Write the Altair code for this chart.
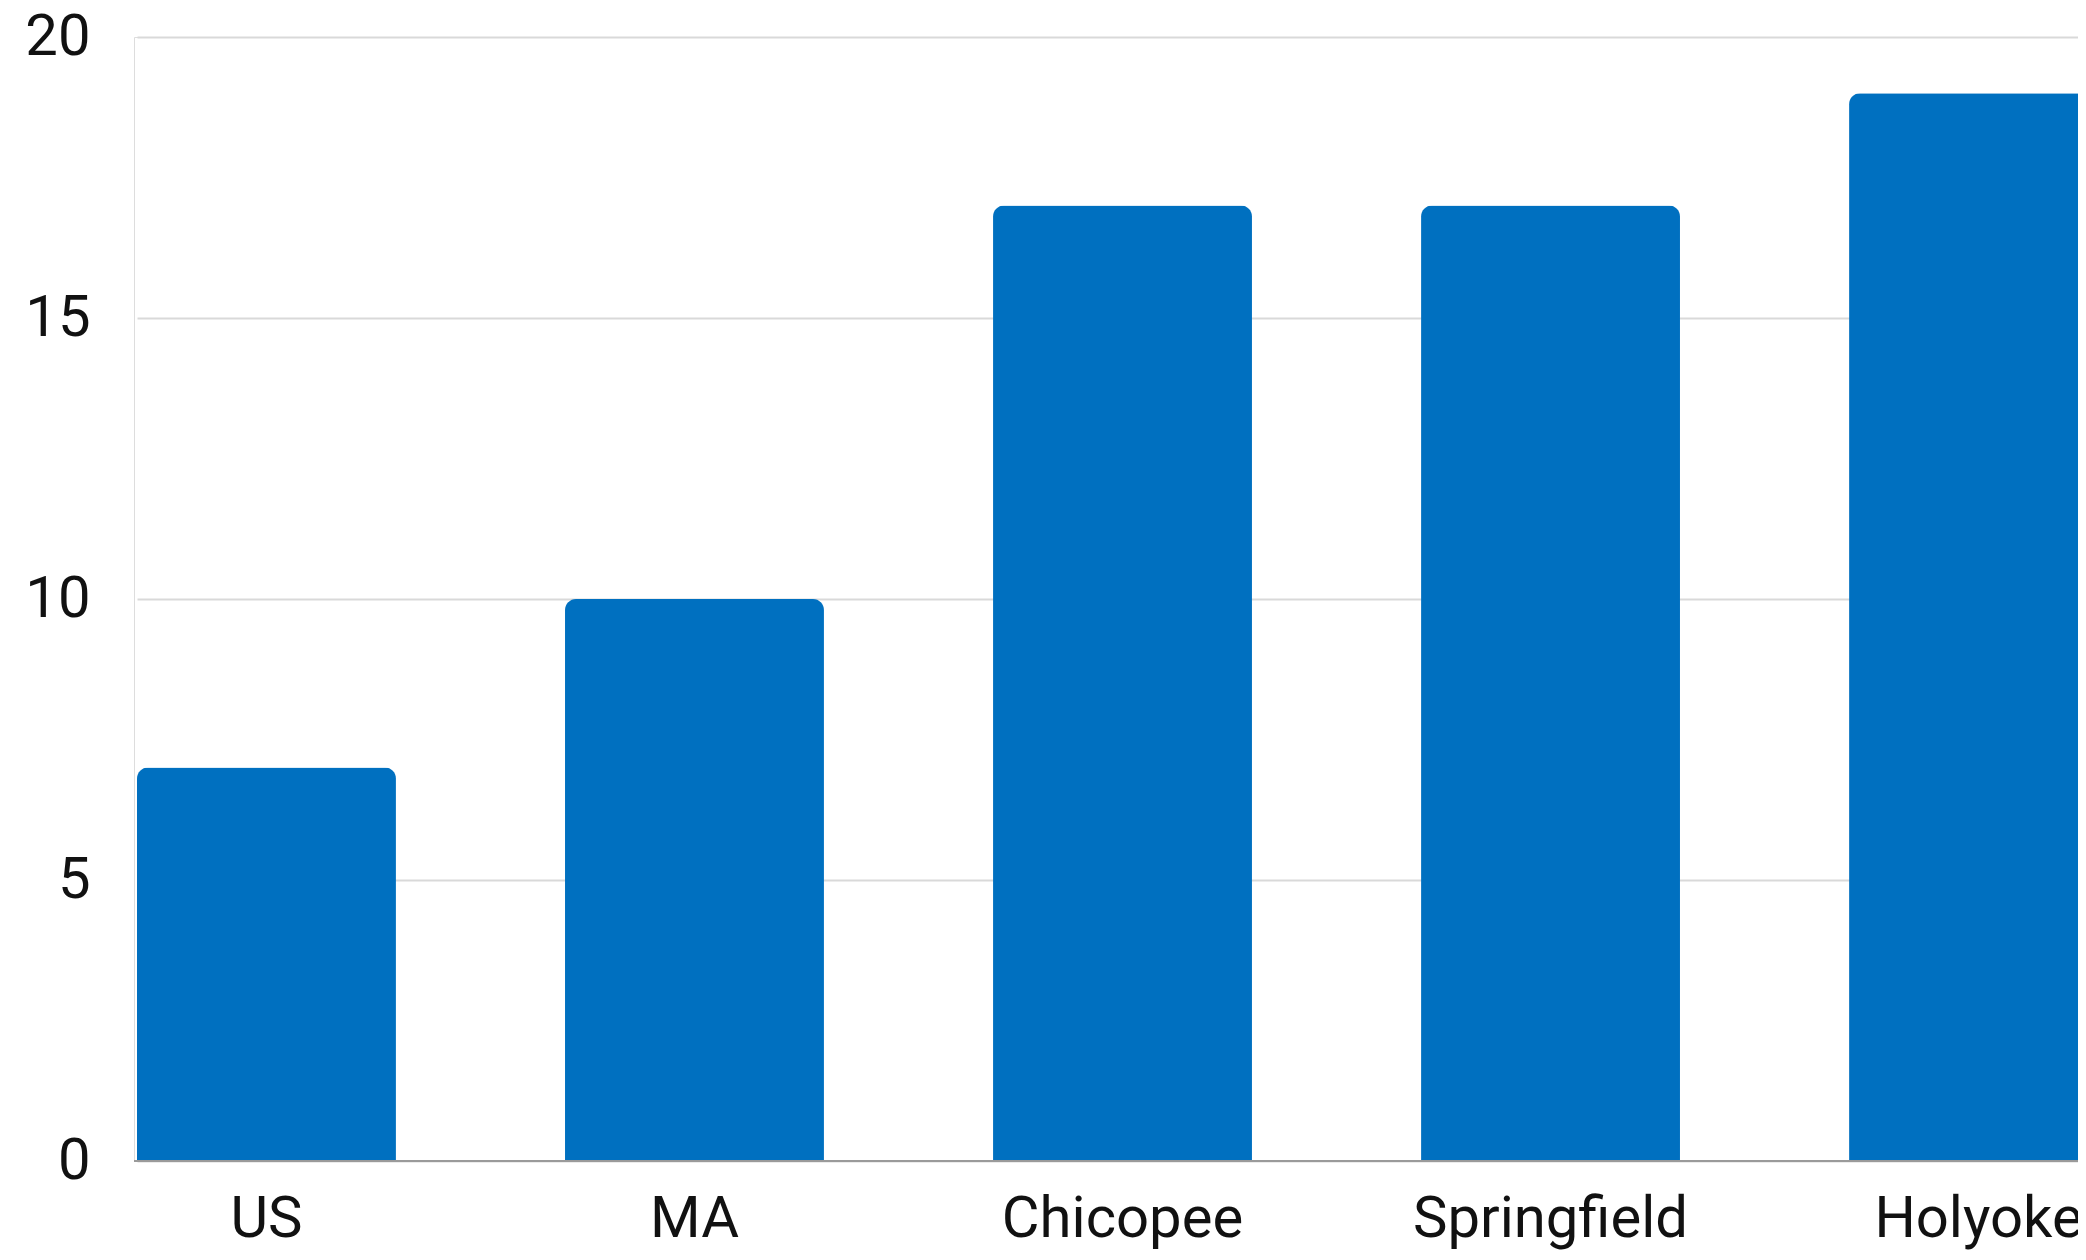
import altair as alt
import pandas as pd

categories = ["US", "MA", "Chicopee", "Springfield", "Holyoke"]
values = [7, 10, 17, 17, 19]
y_ticks = [0, 5, 10, 15, 20]

df = pd.DataFrame({"place": categories, "value": values})

FONT = "Roboto"
W, H = 1944, 1124

bars = alt.Chart(df).mark_bar(
    color="#0070C0",
    cornerRadiusTopLeft=11,
    cornerRadiusTopRight=11,
).encode(
    x=alt.X(
        "place:N",
        sort=categories,
        scale=alt.Scale(range=[3, 1974], paddingInner=0.395, paddingOuter=0),
        axis=alt.Axis(
            title=None,
            labelAngle=0,
            domain=False,
            ticks=False,
            labelFont=FONT,
            labelFontSize=58,
            labelColor="#111111",
            labelPadding=29,
            labelLimit=0,
        ),
    ),
    y=alt.Y(
        "value:Q",
        scale=alt.Scale(domain=[0, 20]),
        axis=alt.Axis(
            title=None,
            values=y_ticks,
            format="d",
            domain=False,
            ticks=False,
            grid=True,
            gridColor="#d9d9d9",
            gridWidth=2,
            labelFont=FONT,
            labelFontSize=58,
            labelColor="#111111",
            labelPadding=44,
            labelLimit=0,
        ),
    ),
)

baseline = alt.Chart(pd.DataFrame({"base": [0]})).mark_rule(
    color="#9a9a9a", strokeWidth=2
).encode(y=alt.Y("base:Q"))

chart = (
    alt.layer(bars, baseline)
    .properties(
        width=W,
        height=H,
        autosize=alt.AutoSizeParams(type="none"),
        padding={"left": 126, "top": 29, "right": 0, "bottom": 91},
    )
    .configure_view(stroke=None)
    .configure(background="white")
)

chart.save("out.html", embed_options={"renderer": "svg", "actions": False})
